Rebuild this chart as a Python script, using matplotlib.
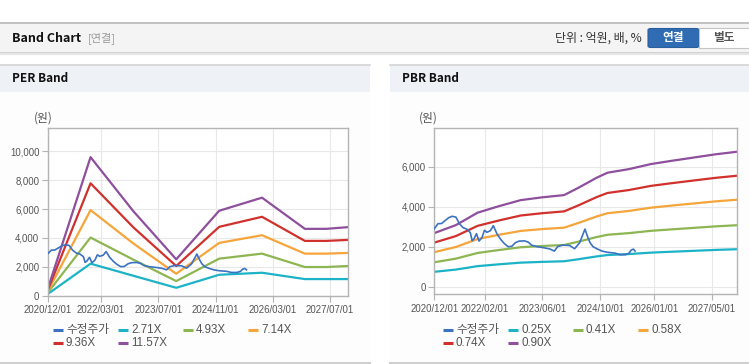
import matplotlib
matplotlib.use("Agg")
import matplotlib.pyplot as plt
from matplotlib.patches import Rectangle, FancyBboxPatch
from matplotlib.lines import Line2D
from matplotlib.ticker import FuncFormatter
import pandas as pd

plt.rcParams['font.family'] = ['Noto Sans CJK KR', 'DejaVu Sans']

W, H = 749, 364

# ---- data ----
price_dates = ["2020-12-01", "2021-01-01", "2021-02-01", "2021-03-01", "2021-04-01", "2021-05-01",
               "2021-06-01", "2021-07-01", "2021-08-01", "2021-09-01", "2021-10-01", "2021-10-16",
               "2021-11-01", "2021-11-22", "2021-12-13", "2022-01-07", "2022-01-28", "2022-02-18",
               "2022-03-19", "2022-04-13", "2022-05-13", "2022-06-16", "2022-07-16", "2022-08-16",
               "2022-09-16", "2022-10-16", "2022-11-16", "2023-01-01", "2023-02-01", "2023-03-01",
               "2023-04-16", "2023-06-01", "2023-08-01", "2023-09-10", "2023-10-07", "2023-11-16",
               "2024-01-16", "2024-02-28", "2024-04-10", "2024-05-25", "2024-06-19", "2024-07-07",
               "2024-08-01", "2024-09-01", "2024-10-16", "2024-12-01", "2025-02-01", "2025-03-16",
               "2025-05-01", "2025-06-01", "2025-06-19", "2025-07-07", "2025-07-22"]
price = [2900, 3150, 3160, 3300, 3450, 3520, 3480, 3150, 2950, 2880, 2700, 2300,
         2400, 2650, 2280, 2450, 2820, 2720, 2800, 3050, 2650, 2350, 2150, 2000,
         2020, 2200, 2280, 2290, 2230, 2080, 2000, 1960, 1890, 1780, 2000, 2080,
         2060, 1900, 2200, 2880, 2450, 2200, 2000, 1900, 1780, 1720, 1680, 1600,
         1600, 1680, 1830, 1880, 1780]

per_dates = ["2020-12-01", "2021-12-01", "2022-12-01", "2023-12-01", "2024-12-01",
             "2025-12-01", "2026-12-01", "2027-06-01", "2027-12-01"]
per_labels = ["2.71X", "4.93X", "7.14X", "9.36X", "11.57X"]
per_271 = [100, 2209, 1370, 535, 1440, 1581, 1140, 1140, 1140]
per_493 = [190, 4023, 2490, 1000, 2558, 2907, 1977, 1977, 2047]
per_714 = [280, 5930, 3610, 1512, 3651, 4186, 2907, 2907, 2953]
per_936 = [360, 7791, 4730, 2047, 4767, 5465, 3791, 3791, 3860]
per_1157 = [450, 9605, 5850, 2512, 5884, 6791, 4628, 4628, 4744]

pbr_dates = ["2020-12-01", "2021-06-01", "2021-12-01", "2022-06-01", "2022-12-01", "2023-06-01",
             "2023-12-01", "2024-04-01", "2024-06-01", "2024-09-01", "2024-12-01", "2025-06-01",
             "2025-12-01", "2026-06-01", "2026-12-01", "2027-06-01", "2027-12-01"]
pbr_labels = ["0.25X", "0.41X", "0.58X", "0.74X", "0.90X"]
pbr_025 = [745, 856, 1028, 1120, 1203, 1242, 1272, 1375, 1431, 1514, 1583, 1633, 1703, 1750, 1795, 1839, 1875]
pbr_041 = [1221, 1403, 1686, 1836, 1973, 2036, 2086, 2255, 2346, 2483, 2597, 2679, 2793, 2870, 2943, 3016, 3075]
pbr_058 = [1727, 1985, 2384, 2597, 2790, 2881, 2952, 3190, 3319, 3512, 3673, 3789, 3950, 4060, 4163, 4266, 4350]
pbr_074 = [2204, 2532, 3042, 3314, 3560, 3676, 3766, 4070, 4234, 4481, 4686, 4834, 5040, 5180, 5312, 5443, 5550]
pbr_090 = [2680, 3080, 3700, 4030, 4330, 4470, 4580, 4950, 5150, 5450, 5700, 5880, 6130, 6300, 6460, 6620, 6750]

per_ticks = ["2020/12/01", "2022/03/01", "2023/07/01", "2024/11/01", "2026/03/01", "2027/07/01"]
pbr_ticks = ["2020/12/01", "2022/02/01", "2023/06/01", "2024/10/01", "2026/01/01", "2027/05/01"]

band_colors = ["#1db3c6", "#8db552", "#f5a53a", "#d0312d", "#8e4f9c"]
price_color = "#3b72c2"


def fx(x):
    return x / W


def fy(y):
    return 1 - y / H


fig = plt.figure(figsize=(W / 100, H / 100), dpi=100)
fig.patch.set_facecolor("white")


def rect(x0, y0, x1, y1, fc, ec="none", lw=0):
    fig.patches.append(Rectangle((fx(x0), fy(y1)), fx(x1 - x0), (y1 - y0) / H,
                                 transform=fig.transFigure, facecolor=fc, edgecolor=ec,
                                 linewidth=lw, zorder=0))


def hline(x0, x1, y, color, lw=1):
    fig.add_artist(Line2D([fx(x0), fx(x1)], [fy(y), fy(y)], transform=fig.transFigure,
                          color=color, linewidth=lw, zorder=1))


# header bar
rect(0, 22, W, 52, "#f4f4f4")
hline(0, W, 22.5, "#b9b9b9", 1.2)
hline(0, W, 52.5, "#c8c8c8", 1.2)
hline(0, W, 54, "#e6e6e6", 1.5)
fig.text(fx(12), fy(38), "Band Chart", fontsize=9, fontweight="bold", color="#111111", va="center")
fig.text(fx(88), fy(38), "[연결]", fontsize=8, color="#9a9a9a", va="center")
fig.text(fx(642), fy(38), "단위 : 억원, 배, %", fontsize=8.6, color="#333333", va="center", ha="right")
fig.patches.append(FancyBboxPatch((fx(648), fy(47.5)), fx(51), 19 / H, boxstyle="round,pad=0,rounding_size=0.004",
                                  transform=fig.transFigure, facecolor="#2f6cb3", edgecolor="#2a5f9e", lw=0.8))
fig.text(fx(673.5), fy(38), "연결", fontsize=8.4, fontweight="bold", color="white", ha="center", va="center")
fig.patches.append(Rectangle((fx(699), fy(47.5)), fx(52), 19 / H, transform=fig.transFigure,
                             facecolor="white", edgecolor="#c4c4c4", lw=0.8))
fig.text(fx(724), fy(38), "별도", fontsize=8.4, fontweight="bold", color="#555555", ha="center", va="center")

# panels
for x0, x1, title in [(0, 370, "PER Band"), (390, W, "PBR Band")]:
    rect(x0, 92, x1, 362, "#fdfdfd")
    rect(x0, 64, x1, 92, "#eef1f6")
    hline(x0, x1, 64.5, "#d6d6d6", 1.2)
    hline(x0, x1, 362.5, "#d0d0d0", 1.5)
    fig.text(fx(x0 + 12), fy(79), title, fontsize=8.5, fontweight="bold", color="#111111", va="center")


def make_axes(box, unit_x, xticks, ylim, yticks):
    x0, y0, x1, y1 = box
    ax = fig.add_axes([fx(x0), fy(y1), fx(x1 - x0), (y1 - y0) / H])
    ax.set_zorder(5)
    ax.set_facecolor("white")
    ax.set_xlim(pd.Timestamp("2020-12-01"), pd.Timestamp("2027-12-01"))
    ax.set_ylim(*ylim)
    ax.set_yticks(yticks)
    ax.yaxis.set_major_formatter(FuncFormatter(lambda v, p: f"{int(v):,}"))
    ax.set_xticks([pd.Timestamp(t.replace("/", "-")) for t in xticks])
    ax.set_xticklabels(xticks)
    ax.grid(True, color="#e8e8e8", linewidth=0.8)
    ax.set_axisbelow(True)
    for s in ax.spines.values():
        s.set_color("#b4b4b4")
        s.set_linewidth(1.0)
    ax.tick_params(axis="both", colors="#b4b4b4", labelcolor="#555555", labelsize=6.9,
                   length=4, width=0.8)
    ax.tick_params(axis="x", pad=3)
    ax.tick_params(axis="y", pad=2)
    for lab in ax.get_xticklabels() + ax.get_yticklabels():
        lab.set_fontfamily(["Liberation Sans", "DejaVu Sans"])
    fig.text(fx(unit_x), fy(118), "(원)", fontsize=8.5, color="#555555", va="center", ha="center")
    return ax


def legend_row(x_start, y, items):
    for i, (label, color) in enumerate(items):
        lx = x_start + i * 65
        fig.add_artist(Line2D([fx(lx), fx(lx + 10)], [fy(y), fy(y)], transform=fig.transFigure,
                              color=color, linewidth=2.2, solid_capstyle="butt"))
        fig.text(fx(lx + 13), fy(y), label, fontsize=8.4, color="#555555", va="center",
                 family=["Liberation Sans", "Noto Sans CJK KR"])


# PER chart
ax1 = make_axes((47.7, 128, 347.7, 295.5), 43, per_ticks, (0, 11630), range(0, 10001, 2000))
pd_per = pd.to_datetime(per_dates)
for vals, c in zip([per_271, per_493, per_714, per_936, per_1157], band_colors):
    ax1.plot(pd_per, vals, color=c, linewidth=1.6, zorder=2)
ax1.plot(pd.to_datetime(price_dates), price, color=price_color, linewidth=1.2, zorder=3)
legend_row(53, 330, [("수정주가", price_color)] + list(zip(per_labels[:3], band_colors[:3])))
legend_row(53, 343, list(zip(per_labels[3:], band_colors[3:])))

# PBR chart
ax2 = make_axes((434.3, 128.3, 737.3, 294.3), 428, pbr_ticks, (-380, 7920), range(0, 6001, 2000))
pd_pbr = pd.to_datetime(pbr_dates)
for vals, c in zip([pbr_025, pbr_041, pbr_058, pbr_074, pbr_090], band_colors):
    ax2.plot(pd_pbr, vals, color=c, linewidth=1.6, zorder=2)
ax2.plot(pd.to_datetime(price_dates), price, color=price_color, linewidth=1.2, zorder=3)
legend_row(443, 330, [("수정주가", price_color)] + list(zip(pbr_labels[:3], band_colors[:3])))
legend_row(443, 343, list(zip(pbr_labels[3:], band_colors[3:])))

fig.savefig("out.png", dpi=100)
